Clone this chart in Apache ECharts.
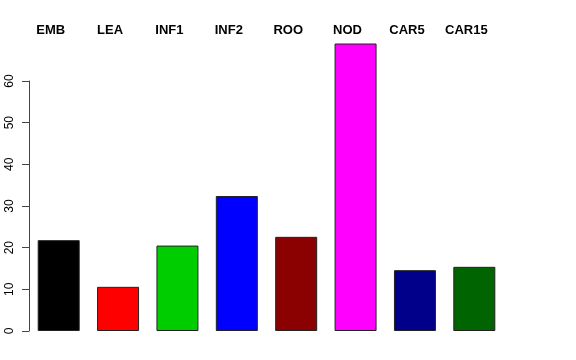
<!DOCTYPE html>
<html>
<head>
<meta charset="utf-8">
<script src="https://cdn.jsdelivr.net/npm/echarts@6/dist/echarts.min.js"></script>
<style>html,body{margin:0;padding:0;background:#fff;}#c{width:576px;height:360px;}</style>
</head>
<body>
<div id="c"></div>
<script>
var categories = ['EMB', 'LEA', 'INF1', 'INF2', 'ROO', 'NOD', 'CAR5', 'CAR15'];
var values = [21.8, 10.6, 20.5, 32.4, 22.6, 69.0, 14.6, 15.4];
var barColors = ['#000000', '#FF0000', '#00CD00', '#0000FF', '#8B0000', '#FF00FF', '#00008B', '#006400'];
var yTicks = [0, 10, 20, 30, 40, 50, 60];

var chart = echarts.init(document.getElementById('c'), null, {renderer: 'canvas'});
chart.setOption({
  animation: false,
  backgroundColor: '#ffffff',
  grid: {left: 29, right: 72, top: 81, bottom: 29, containLabel: false},
  xAxis: {
    type: 'category',
    position: 'top',
    data: categories,
    axisLine: {show: false},
    axisTick: {show: false},
    axisLabel: {
      interval: 0,
      margin: 44,
      color: '#000',
      fontFamily: 'Liberation Sans, Arial, sans-serif',
      fontWeight: 'bold',
      fontSize: 13,
      padding: [0, 16, 0, 0]
    }
  },
  yAxis: {
    type: 'value',
    min: yTicks[0],
    max: yTicks[yTicks.length - 1],
    interval: 10,
    splitLine: {show: false},
    axisLine: {show: true, lineStyle: {color: '#444', width: 1}},
    axisTick: {show: true, length: 7, lineStyle: {color: '#444'}},
    axisLabel: {
      rotate: 90,
      margin: 13,
      color: '#000',
      fontFamily: 'Liberation Sans, Arial, sans-serif',
      fontSize: 12
    }
  },
  series: [{
    type: 'bar',
    clip: false,
    barWidth: 42,
    data: values.map(function (v, i) {
      return {value: v, itemStyle: {color: barColors[i]}};
    }),
    itemStyle: {borderColor: '#222', borderWidth: 1}
  }]
});
</script>
</body>
</html>
